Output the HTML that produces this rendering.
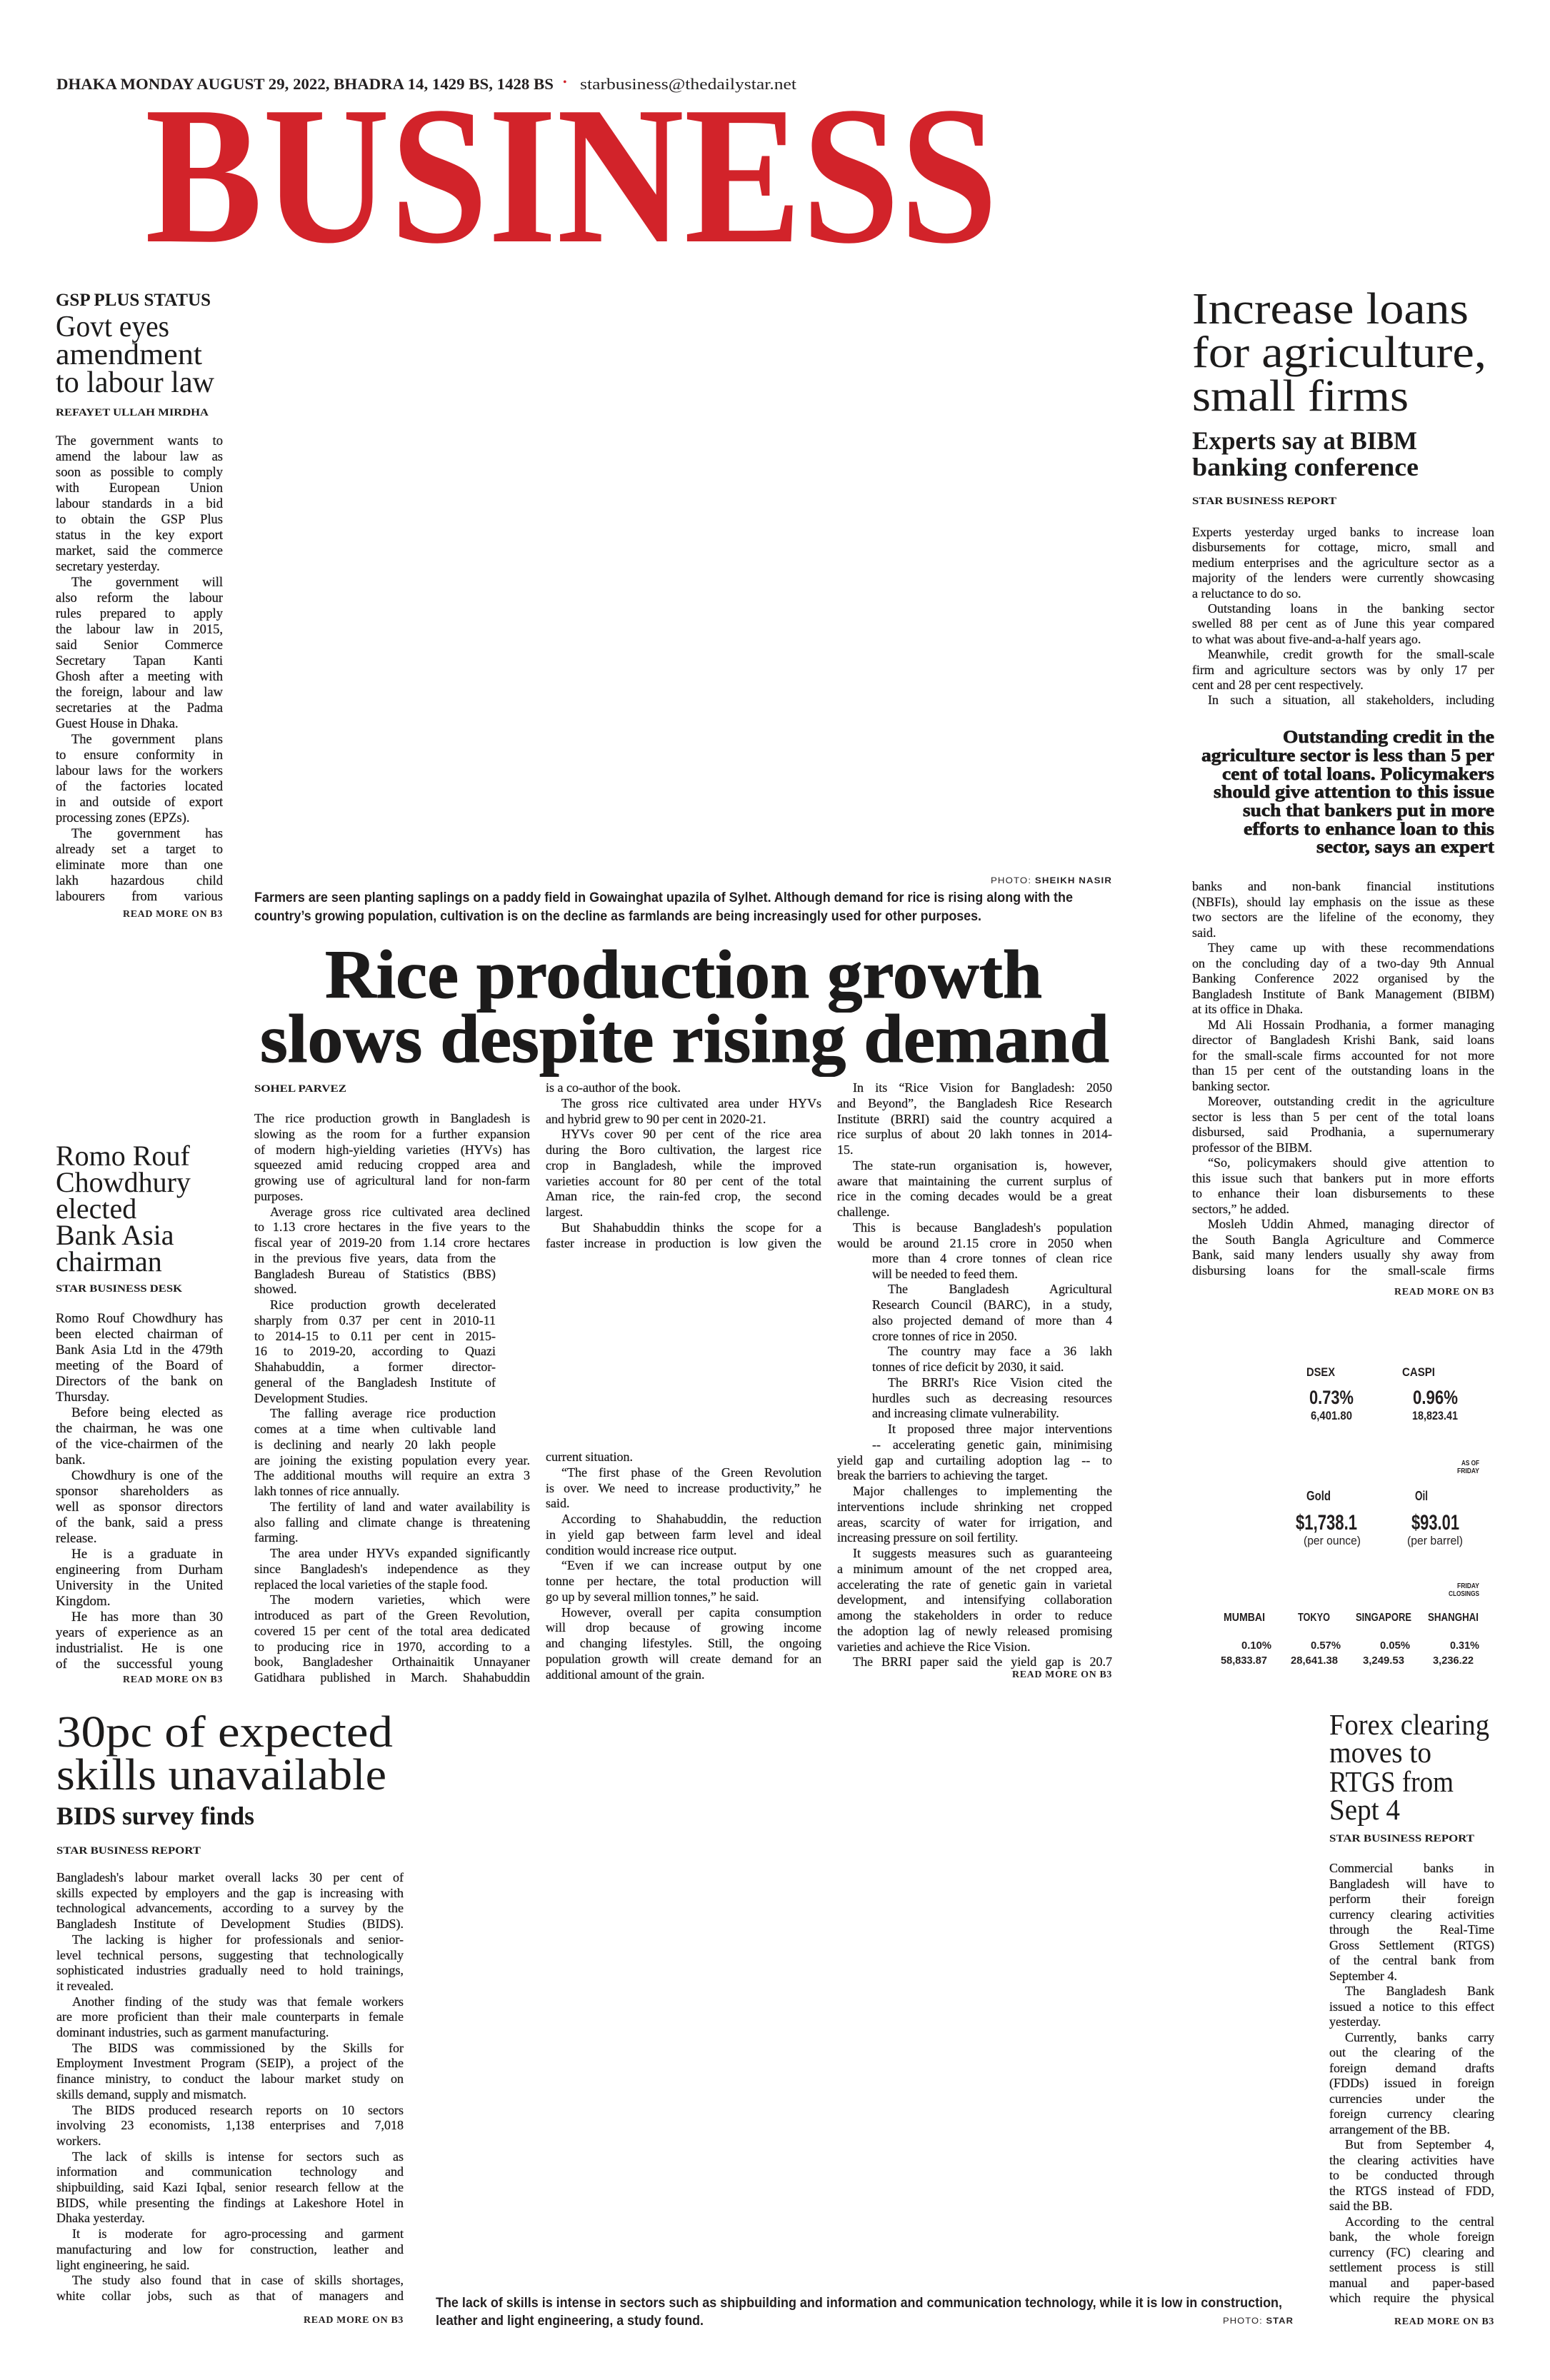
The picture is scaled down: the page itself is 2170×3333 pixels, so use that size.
<!DOCTYPE html>
<html><head><meta charset="utf-8">
<style>
html,body{margin:0;padding:0;background:#fff;}
body{width:2170px;height:3333px;position:relative;overflow:hidden;color:#231f20;font-family:"Liberation Serif",serif;}
.f{position:absolute;white-space:nowrap;line-height:1;transform-origin:0 0;}
.s{font-family:"Liberation Sans",sans-serif;}
.bd{font-weight:bold;}
.b{position:absolute;font-family:"Liberation Serif",serif;color:#1d1a1b;-webkit-text-stroke:0.25px #1d1a1b;}
.b>div{white-space:nowrap;text-align:justify;text-align-last:justify;}
.b>div.e{text-align-last:left;}
.b>div.i{text-indent:22px;}
.hd{color:#1c1b1b;}
.pq{-webkit-text-stroke:0.7px #1c1b1b;}
.big{-webkit-text-stroke:1px #1c1b1b;}
.rm{font-weight:bold;font-size:13.5px;letter-spacing:0.6px;}
</style></head><body>

<!-- header -->
<div class="f bd" style="left:79px;top:106.6px;font-size:22px;--w:696px">DHAKA MONDAY AUGUST 29, 2022, BHADRA 14, 1429 BS, 1428 BS</div>
<div class="f" style="left:788px;top:108px;font-size:16px;color:#d2232a">•</div>
<div class="f" style="left:812px;top:106.6px;font-size:22px;--w:303px">starbusiness@thedailystar.net</div>
<div class="f bd" style="left:203px;top:107px;font-size:276px;color:#d2232a;--w:1194px">BUSINESS</div>

<!-- left story 1 -->
<div class="f bd hd" style="left:78px;top:408px;font-size:25px;--w:217px">GSP PLUS STATUS</div>
<div class="f hd" style="left:78px;top:437px;font-size:42px;--w:159px">Govt eyes</div>
<div class="f hd" style="left:78px;top:476px;font-size:42px;--w:205px">amendment</div>
<div class="f hd" style="left:78px;top:515px;font-size:42px;--w:222px">to labour law</div>
<div class="f bd hd" style="left:78px;top:571.4px;font-size:15px;--w:214px">REFAYET ULLAH MIRDHA</div>
<div class="b" style="left:78px;top:607px;width:234px;font-size:18.5px;line-height:22px">
<div>The government wants to</div>
<div>amend the labour law as</div>
<div>soon as possible to comply</div>
<div>with European Union</div>
<div>labour standards in a bid</div>
<div>to obtain the GSP Plus</div>
<div>status in the key export</div>
<div>market, said the commerce</div>
<div class="e">secretary yesterday.</div>
<div class="i">The government will</div>
<div>also reform the labour</div>
<div>rules prepared to apply</div>
<div>the labour law in 2015,</div>
<div>said Senior Commerce</div>
<div>Secretary Tapan Kanti</div>
<div>Ghosh after a meeting with</div>
<div>the foreign, labour and law</div>
<div>secretaries at the Padma</div>
<div class="e">Guest House in Dhaka.</div>
<div class="i">The government plans</div>
<div>to ensure conformity in</div>
<div>labour laws for the workers</div>
<div>of the factories located</div>
<div>in and outside of export</div>
<div class="e">processing zones (EPZs).</div>
<div class="i">The government has</div>
<div>already set a target to</div>
<div>eliminate more than one</div>
<div>lakh hazardous child</div>
<div>labourers from various</div>
</div>
<div class="f rm" style="left:172px;top:1273px;--w:140px">READ MORE ON B3</div>

<!-- Romo -->
<div class="f hd" style="left:78px;top:1598.5px;font-size:40px">Romo Rouf</div>
<div class="f hd" style="left:78px;top:1635.5px;font-size:40px">Chowdhury</div>
<div class="f hd" style="left:78px;top:1672.5px;font-size:40px">elected</div>
<div class="f hd" style="left:78px;top:1709.5px;font-size:40px">Bank Asia</div>
<div class="f hd" style="left:78px;top:1746.5px;font-size:40px">chairman</div>
<div class="f bd hd" style="left:78px;top:1798px;font-size:15px;--w:177px">STAR BUSINESS DESK</div>
<div class="b" style="left:78px;top:1836px;width:234px;font-size:19px;line-height:22px">
<div>Romo Rouf Chowdhury has</div>
<div>been elected chairman of</div>
<div>Bank Asia Ltd in the 479th</div>
<div>meeting of the Board of</div>
<div>Directors of the bank on</div>
<div class="e">Thursday.</div>
<div class="i">Before being elected as</div>
<div>the chairman, he was one</div>
<div>of the vice-chairmen of the</div>
<div class="e">bank.</div>
<div class="i">Chowdhury is one of the</div>
<div>sponsor shareholders as</div>
<div>well as sponsor directors</div>
<div>of the bank, said a press</div>
<div class="e">release.</div>
<div class="i">He is a graduate in</div>
<div>engineering from Durham</div>
<div>University in the United</div>
<div class="e">Kingdom.</div>
<div class="i">He has more than 30</div>
<div>years of experience as an</div>
<div>industrialist. He is one</div>
<div>of the successful young</div>
</div>
<div class="f rm" style="left:172px;top:2345px;--w:140px">READ MORE ON B3</div>

<!-- center -->
<div class="f s" style="left:1387px;top:1227px;font-size:12px;letter-spacing:1px;--w:170px">PHOTO: <b>SHEIKH NASIR</b></div>
<div class="f s bd" style="left:356px;top:1247.5px;font-size:19px;--w:1146px">Farmers are seen planting saplings on a paddy field in Gowainghat upazila of Sylhet. Although demand for rice is rising along with the</div>
<div class="f s bd" style="left:356px;top:1273.5px;font-size:19px;--w:1018px">country’s growing population, cultivation is on the decline as farmlands are being increasingly used for other purposes.</div>
<div class="f bd hd big" style="left:455px;top:1316.6px;font-size:96px;--w:1004px">Rice production growth</div>
<div class="f bd hd big" style="left:364px;top:1406.6px;font-size:96px;--w:1189px">slows despite rising demand</div>
<div class="f bd hd" style="left:356px;top:1518.4px;font-size:15px;--w:129px">SOHEL PARVEZ</div>

<div class="b" style="left:356px;top:1556px;width:386px;font-size:18px;line-height:21.75px">
<div>The rice production growth in Bangladesh is</div>
<div>slowing as the room for a further expansion</div>
<div>of modern high-yielding varieties (HYVs) has</div>
<div>squeezed amid reducing cropped area and</div>
<div>growing use of agricultural land for non-farm</div>
<div class="e">purposes.</div>
<div class="i">Average gross rice cultivated area declined</div>
<div>to 1.13 crore hectares in the five years to the</div>
<div>fiscal year of 2019-20 from 1.14 crore hectares</div>
</div>
<div class="b" style="left:356px;top:1751.75px;width:338px;font-size:18px;line-height:21.75px">
<div>in the previous five years, data from the</div>
<div>Bangladesh Bureau of Statistics (BBS)</div>
<div class="e">showed.</div>
<div class="i">Rice production growth decelerated</div>
<div>sharply from 0.37 per cent in 2010-11</div>
<div>to 2014-15 to 0.11 per cent in 2015-</div>
<div>16 to 2019-20, according to Quazi</div>
<div>Shahabuddin, a former director-</div>
<div>general of the Bangladesh Institute of</div>
<div class="e">Development Studies.</div>
<div class="i">The falling average rice production</div>
<div>comes at a time when cultivable land</div>
<div>is declining and nearly 20 lakh people</div>
</div>
<div class="b" style="left:356px;top:2034.5px;width:386px;font-size:18px;line-height:21.75px">
<div>are joining the existing population every year.</div>
<div>The additional mouths will require an extra 3</div>
<div class="e">lakh tonnes of rice annually.</div>
<div class="i">The fertility of land and water availability is</div>
<div>also falling and climate change is threatening</div>
<div class="e">farming.</div>
<div class="i">The area under HYVs expanded significantly</div>
<div>since Bangladesh's independence as they</div>
<div class="e">replaced the local varieties of the staple food.</div>
<div class="i">The modern varieties, which were</div>
<div>introduced as part of the Green Revolution,</div>
<div>covered 15 per cent of the total area dedicated</div>
<div>to producing rice in 1970, according to a</div>
<div>book, Bangladesher Orthainaitik Unnayaner</div>
<div>Gatidhara published in March. Shahabuddin</div>
</div>

<div class="b" style="left:764px;top:1513px;width:386px;font-size:18px;line-height:21.75px">
<div class="e">is a co-author of the book.</div>
<div class="i">The gross rice cultivated area under HYVs</div>
<div class="e">and hybrid grew to 90 per cent in 2020-21.</div>
<div class="i">HYVs cover 90 per cent of the rice area</div>
<div>during the Boro cultivation, the largest rice</div>
<div>crop in Bangladesh, while the improved</div>
<div>varieties account for 80 per cent of the total</div>
<div>Aman rice, the rain-fed crop, the second</div>
<div class="e">largest.</div>
<div class="i">But Shahabuddin thinks the scope for a</div>
<div>faster increase in production is low given the</div>
</div>
<div class="b" style="left:764px;top:2030px;width:386px;font-size:18px;line-height:21.75px">
<div class="e">current situation.</div>
<div class="i">“The first phase of the Green Revolution</div>
<div>is over. We need to increase productivity,” he</div>
<div class="e">said.</div>
<div class="i">According to Shahabuddin, the reduction</div>
<div>in yield gap between farm level and ideal</div>
<div class="e">condition would increase rice output.</div>
<div class="i">“Even if we can increase output by one</div>
<div>tonne per hectare, the total production will</div>
<div class="e">go up by several million tonnes,” he said.</div>
<div class="i">However, overall per capita consumption</div>
<div>will drop because of growing income</div>
<div>and changing lifestyles. Still, the ongoing</div>
<div>population growth will create demand for an</div>
<div class="e">additional amount of the grain.</div>
</div>

<div class="b" style="left:1172px;top:1513px;width:385px;font-size:18px;line-height:21.75px">
<div class="i">In its “Rice Vision for Bangladesh: 2050</div>
<div>and Beyond”, the Bangladesh Rice Research</div>
<div>Institute (BRRI) said the country acquired a</div>
<div>rice surplus of about 20 lakh tonnes in 2014-</div>
<div class="e">15.</div>
<div class="i">The state-run organisation is, however,</div>
<div>aware that maintaining the current surplus of</div>
<div>rice in the coming decades would be a great</div>
<div class="e">challenge.</div>
<div class="i">This is because Bangladesh's population</div>
<div>would be around 21.15 crore in 2050 when</div>
</div>
<div class="b" style="left:1221px;top:1751.75px;width:336px;font-size:18px;line-height:21.75px">
<div>more than 4 crore tonnes of clean rice</div>
<div class="e">will be needed to feed them.</div>
<div class="i">The Bangladesh Agricultural</div>
<div>Research Council (BARC), in a study,</div>
<div>also projected demand of more than 4</div>
<div class="e">crore tonnes of rice in 2050.</div>
<div class="i">The country may face a 36 lakh</div>
<div class="e">tonnes of rice deficit by 2030, it said.</div>
<div class="i">The BRRI's Rice Vision cited the</div>
<div>hurdles such as decreasing resources</div>
<div class="e">and increasing climate vulnerability.</div>
<div class="i">It proposed three major interventions</div>
<div>-- accelerating genetic gain, minimising</div>
</div>
<div class="b" style="left:1172px;top:2034.5px;width:385px;font-size:18px;line-height:21.75px">
<div>yield gap and curtailing adoption lag -- to</div>
<div class="e">break the barriers to achieving the target.</div>
<div class="i">Major challenges to implementing the</div>
<div>interventions include shrinking net cropped</div>
<div>areas, scarcity of water for irrigation, and</div>
<div class="e">increasing pressure on soil fertility.</div>
<div class="i">It suggests measures such as guaranteeing</div>
<div>a minimum amount of the net cropped area,</div>
<div>accelerating the rate of genetic gain in varietal</div>
<div>development, and intensifying collaboration</div>
<div>among the stakeholders in order to reduce</div>
<div>the adoption lag of newly released promising</div>
<div class="e">varieties and achieve the Rice Vision.</div>
<div class="i">The BRRI paper said the yield gap is 20.7</div>
</div>
<div class="f rm" style="left:1417px;top:2338px;--w:140px">READ MORE ON B3</div>

<!-- right story -->
<div class="f hd" style="left:1669px;top:402px;font-size:62px;--w:387px">Increase loans</div>
<div class="f hd" style="left:1669px;top:463px;font-size:62px;--w:412px">for agriculture,</div>
<div class="f hd" style="left:1669px;top:524px;font-size:62px;--w:303px">small firms</div>
<div class="f bd hd" style="left:1669px;top:599px;font-size:36px;--w:315px">Experts say at BIBM</div>
<div class="f bd hd" style="left:1669px;top:636px;font-size:36px;--w:317px">banking conference</div>
<div class="f bd hd" style="left:1669px;top:695px;font-size:15px;--w:202px">STAR BUSINESS REPORT</div>
<div class="b" style="left:1669px;top:735px;width:423px;font-size:18px;line-height:21.4px">
<div>Experts yesterday urged banks to increase loan</div>
<div>disbursements for cottage, micro, small and</div>
<div>medium enterprises and the agriculture sector as a</div>
<div>majority of the lenders were currently showcasing</div>
<div class="e">a reluctance to do so.</div>
<div class="i">Outstanding loans in the banking sector</div>
<div>swelled 88 per cent as of June this year compared</div>
<div class="e">to what was about five-and-a-half years ago.</div>
<div class="i">Meanwhile, credit growth for the small-scale</div>
<div>firm and agriculture sectors was by only 17 per</div>
<div class="e">cent and 28 per cent respectively.</div>
<div class="i">In such a situation, all stakeholders, including</div>
</div>
<div class="f bd hd pq" style="left:1796px;top:1020.1px;font-size:25px;--w:296px">Outstanding credit in the</div>
<div class="f bd hd pq" style="left:1682px;top:1045.8px;font-size:25px;--w:410px">agriculture sector is less than 5 per</div>
<div class="f bd hd pq" style="left:1711px;top:1071.5px;font-size:25px;--w:381px">cent of total loans. Policymakers</div>
<div class="f bd hd pq" style="left:1699px;top:1097.2px;font-size:25px;--w:393px">should give attention to this issue</div>
<div class="f bd hd pq" style="left:1740px;top:1122.9px;font-size:25px;--w:352px">such that bankers put in more</div>
<div class="f bd hd pq" style="left:1741px;top:1148.6px;font-size:25px;--w:351px">efforts to enhance loan to this</div>
<div class="f bd hd pq" style="left:1843px;top:1174.3px;font-size:25px;--w:249px">sector, says an expert</div>
<div class="b" style="left:1669px;top:1231px;width:423px;font-size:18px;line-height:21.5px">
<div>banks and non-bank financial institutions</div>
<div>(NBFIs), should lay emphasis on the issue as these</div>
<div>two sectors are the lifeline of the economy, they</div>
<div class="e">said.</div>
<div class="i">They came up with these recommendations</div>
<div>on the concluding day of a two-day 9th Annual</div>
<div>Banking Conference 2022 organised by the</div>
<div>Bangladesh Institute of Bank Management (BIBM)</div>
<div class="e">at its office in Dhaka.</div>
<div class="i">Md Ali Hossain Prodhania, a former managing</div>
<div>director of Bangladesh Krishi Bank, said loans</div>
<div>for the small-scale firms accounted for not more</div>
<div>than 15 per cent of the outstanding loans in the</div>
<div class="e">banking sector.</div>
<div class="i">Moreover, outstanding credit in the agriculture</div>
<div>sector is less than 5 per cent of the total loans</div>
<div>disbursed, said Prodhania, a supernumerary</div>
<div class="e">professor of the BIBM.</div>
<div class="i">“So, policymakers should give attention to</div>
<div>this issue such that bankers put in more efforts</div>
<div>to enhance their loan disbursements to these</div>
<div class="e">sectors,” he added.</div>
<div class="i">Mosleh Uddin Ahmed, managing director of</div>
<div>the South Bangla Agriculture and Commerce</div>
<div>Bank, said many lenders usually shy away from</div>
<div>disbursing loans for the small-scale firms</div>
</div>
<div class="f rm" style="left:1952px;top:1802px;--w:140px">READ MORE ON B3</div>

<!-- markets -->
<div class="f s bd" style="left:1829px;top:1913px;font-size:17px;--w:40px">DSEX</div>
<div class="f s bd" style="left:1963px;top:1913px;font-size:17px;--w:46px">CASPI</div>
<div class="f s bd" style="left:1833px;top:1944.3px;font-size:27px;--w:62px">0.73%</div>
<div class="f s bd" style="left:1835px;top:1974px;font-size:17px;--w:58px">6,401.80</div>
<div class="f s bd" style="left:1978px;top:1944.3px;font-size:27px;--w:63px">0.96%</div>
<div class="f s bd" style="left:1977px;top:1974px;font-size:17px;--w:64px">18,823.41</div>
<div class="f s bd" style="left:2046px;top:2045.3px;font-size:10px;--w:25px">AS OF</div>
<div class="f s bd" style="left:2040px;top:2056.3px;font-size:10px;--w:31px">FRIDAY</div>
<div class="f s bd" style="left:1829px;top:2085.5px;font-size:18px;--w:34px">Gold</div>
<div class="f s bd" style="left:1981px;top:2085.5px;font-size:18px;--w:18px">Oil</div>
<div class="f s bd" style="left:1814px;top:2117.8px;font-size:30px;--w:86px">$1,738.1</div>
<div class="f s" style="left:1825px;top:2149px;font-size:17px;--w:80px">(per ounce)</div>
<div class="f s bd" style="left:1976px;top:2117.8px;font-size:30px;--w:67px">$93.01</div>
<div class="f s" style="left:1970px;top:2149px;font-size:17px;--w:78px">(per barrel)</div>
<div class="f s bd" style="left:2040px;top:2217.3px;font-size:10px;--w:31px">FRIDAY</div>
<div class="f s bd" style="left:2028px;top:2228.3px;font-size:10px;--w:43px">CLOSINGS</div>
<div class="f s bd" style="left:1713px;top:2257.5px;font-size:16px;--w:58px">MUMBAI</div>
<div class="f s bd" style="left:1817px;top:2257.5px;font-size:16px;--w:45px">TOKYO</div>
<div class="f s bd" style="left:1898px;top:2257.5px;font-size:16px;--w:78px">SINGAPORE</div>
<div class="f s bd" style="left:1999px;top:2257.5px;font-size:16px;--w:71px">SHANGHAI</div>
<div class="f s bd" style="left:1738px;top:2297px;font-size:15px;--w:42px">0.10%</div>
<div class="f s bd" style="left:1835px;top:2297px;font-size:15px;--w:42px">0.57%</div>
<div class="f s bd" style="left:1932px;top:2297px;font-size:15px;--w:42px">0.05%</div>
<div class="f s bd" style="left:2030px;top:2297px;font-size:15px;--w:41px">0.31%</div>
<div class="f s bd" style="left:1709px;top:2318px;font-size:15px;--w:65px">58,833.87</div>
<div class="f s bd" style="left:1807px;top:2318px;font-size:15px;--w:66px">28,641.38</div>
<div class="f s bd" style="left:1908px;top:2318px;font-size:15px;--w:58px">3,249.53</div>
<div class="f s bd" style="left:2006px;top:2318px;font-size:15px;--w:57px">3,236.22</div>

<!-- bottom-left -->
<div class="f hd" style="left:79px;top:2395px;font-size:62px;--w:471px">30pc of expected</div>
<div class="f hd" style="left:79px;top:2455px;font-size:62px;--w:462px">skills unavailable</div>
<div class="f bd hd" style="left:79px;top:2525px;font-size:36px;--w:277px">BIDS survey finds</div>
<div class="f bd hd" style="left:79px;top:2585px;font-size:15px;--w:202px">STAR BUSINESS REPORT</div>
<div class="b" style="left:79px;top:2619px;width:486px;font-size:18px;line-height:21.7px">
<div>Bangladesh's labour market overall lacks 30 per cent of</div>
<div>skills expected by employers and the gap is increasing with</div>
<div>technological advancements, according to a survey by the</div>
<div>Bangladesh Institute of Development Studies (BIDS).</div>
<div class="i">The lacking is higher for professionals and senior-</div>
<div>level technical persons, suggesting that technologically</div>
<div>sophisticated industries gradually need to hold trainings,</div>
<div class="e">it revealed.</div>
<div class="i">Another finding of the study was that female workers</div>
<div>are more proficient than their male counterparts in female</div>
<div class="e">dominant industries, such as garment manufacturing.</div>
<div class="i">The BIDS was commissioned by the Skills for</div>
<div>Employment Investment Program (SEIP), a project of the</div>
<div>finance ministry, to conduct the labour market study on</div>
<div class="e">skills demand, supply and mismatch.</div>
<div class="i">The BIDS produced research reports on 10 sectors</div>
<div>involving 23 economists, 1,138 enterprises and 7,018</div>
<div class="e">workers.</div>
<div class="i">The lack of skills is intense for sectors such as</div>
<div>information and communication technology and</div>
<div>shipbuilding, said Kazi Iqbal, senior research fellow at the</div>
<div>BIDS, while presenting the findings at Lakeshore Hotel in</div>
<div class="e">Dhaka yesterday.</div>
<div class="i">It is moderate for agro-processing and garment</div>
<div>manufacturing and low for construction, leather and</div>
<div class="e">light engineering, he said.</div>
<div class="i">The study also found that in case of skills shortages,</div>
<div>white collar jobs, such as that of managers and</div>
</div>
<div class="f rm" style="left:425px;top:3242px;--w:140px">READ MORE ON B3</div>

<!-- bottom caption -->
<div class="f s bd" style="left:610px;top:3215.5px;font-size:19px;--w:1185px">The lack of skills is intense in sectors such as shipbuilding and information and communication technology, while it is low in construction,</div>
<div class="f s bd" style="left:610px;top:3240.5px;font-size:19px;--w:375px">leather and light engineering, a study found.</div>
<div class="f s" style="left:1712px;top:3244px;font-size:12px;letter-spacing:1px;--w:99px">PHOTO: <b>STAR</b></div>

<!-- bottom-right -->
<div class="f hd" style="left:1861px;top:2395px;font-size:41px;--w:224px">Forex clearing</div>
<div class="f hd" style="left:1861px;top:2434px;font-size:41px;--w:143px">moves to</div>
<div class="f hd" style="left:1861px;top:2475px;font-size:41px;--w:174px">RTGS from</div>
<div class="f hd" style="left:1861px;top:2514px;font-size:41px;--w:99px">Sept 4</div>
<div class="f bd hd" style="left:1861px;top:2568px;font-size:15px;--w:203px">STAR BUSINESS REPORT</div>
<div class="b" style="left:1861px;top:2606px;width:231px;font-size:18px;line-height:21.5px">
<div>Commercial banks in</div>
<div>Bangladesh will have to</div>
<div>perform their foreign</div>
<div>currency clearing activities</div>
<div>through the Real-Time</div>
<div>Gross Settlement (RTGS)</div>
<div>of the central bank from</div>
<div class="e">September 4.</div>
<div class="i">The Bangladesh Bank</div>
<div>issued a notice to this effect</div>
<div class="e">yesterday.</div>
<div class="i">Currently, banks carry</div>
<div>out the clearing of the</div>
<div>foreign demand drafts</div>
<div>(FDDs) issued in foreign</div>
<div>currencies under the</div>
<div>foreign currency clearing</div>
<div class="e">arrangement of the BB.</div>
<div class="i">But from September 4,</div>
<div>the clearing activities have</div>
<div>to be conducted through</div>
<div>the RTGS instead of FDD,</div>
<div class="e">said the BB.</div>
<div class="i">According to the central</div>
<div>bank, the whole foreign</div>
<div>currency (FC) clearing and</div>
<div>settlement process is still</div>
<div>manual and paper-based</div>
<div>which require the physical</div>
</div>
<div class="f rm" style="left:1952px;top:3244px;--w:140px">READ MORE ON B3</div>

<script>
(function(){
  document.querySelectorAll('.f').forEach(function(e){
    var w=parseFloat(e.style.getPropertyValue('--w'));
    if(w){var n=e.getBoundingClientRect().width; if(n>0){e.style.transform='scaleX('+(w/n)+')';}}
  });
  document.querySelectorAll('.b>div').forEach(function(d){
    var ls=0;
    while(d.scrollWidth>d.clientWidth+0.5 && ls>-2){ls-=0.1;d.style.letterSpacing=ls.toFixed(2)+'px';}
  });
})();
</script>
</body></html>
